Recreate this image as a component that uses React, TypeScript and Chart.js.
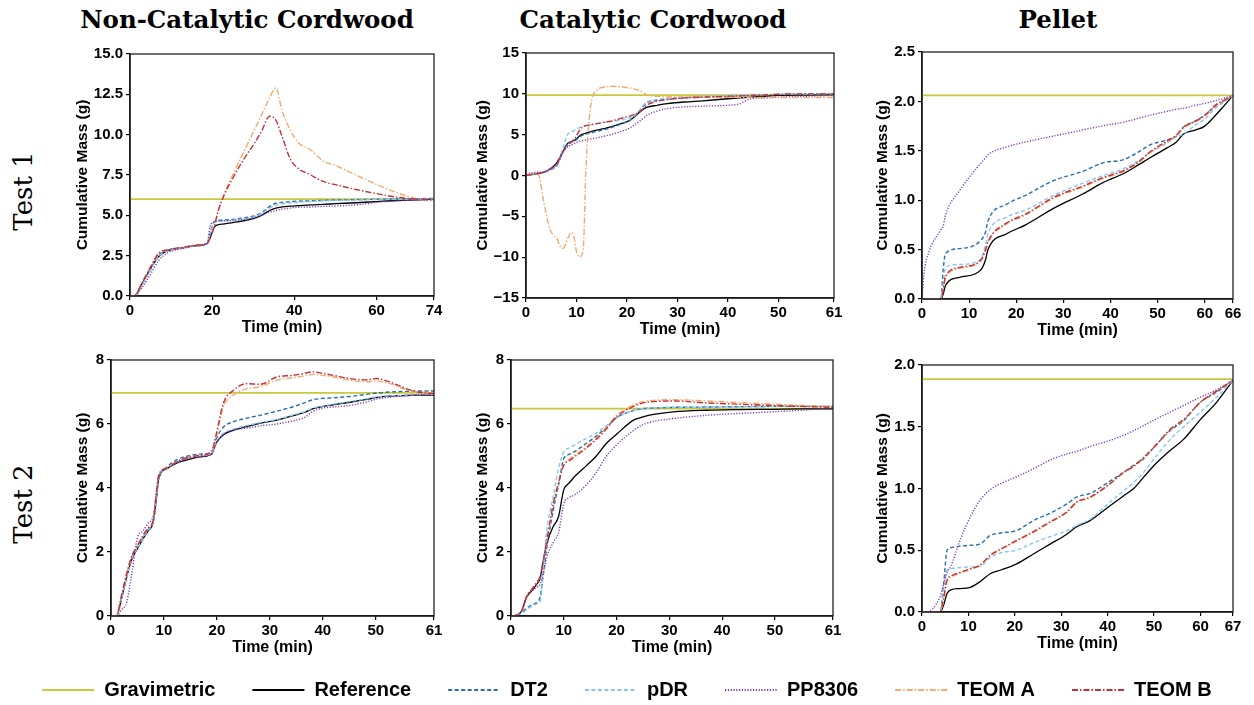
import React, { useEffect, useRef } from "react";
import { Chart, registerables } from "chart.js";

Chart.register(...registerables);

// ---------- series meta ----------
const SERIES = ["Gravimetric", "Reference", "DT2", "pDR", "PP8306", "TEOM A", "TEOM B"];
const COLORS = ["#c9c93c", "#000000", "#2a6fa8", "#86c6ee", "#7a3cc0", "#f4aa6c", "#c4303a"];
const DASHES: number[][] = [[], [], [4, 2.5], [4, 2.5], [1.2, 1.6], [6, 2, 1.5, 2], [6, 2, 1.5, 2]];
const WIDTHS = [1.8, 1.3, 1.4, 1.4, 1.4, 1.4, 1.4];

// ---------- Panel 1: Non-Catalytic Cordwood, Test 1 ----------
const p1Time = [0, 1, 3, 5, 7, 9, 11, 13, 16, 18.8, 19.5, 20.5, 21.5, 23, 25, 28, 30, 32, 34, 35.5, 37, 39, 41, 44, 47, 50, 55, 60, 65, 70, 74];
const p1Grav = 6.0;
const p1Ref = [0, 0, 0.8, 1.7, 2.45, 2.8, 2.92, 3.0, 3.12, 3.25, 3.6, 4.25, 4.42, 4.47, 4.55, 4.68, 4.8, 5.0, 5.3, 5.45, 5.52, 5.57, 5.6, 5.65, 5.68, 5.72, 5.78, 5.85, 5.92, 5.96, 6.0];
const p1DT2 = [0, 0, 0.75, 1.65, 2.5, 2.85, 2.95, 3.0, 3.12, 3.25, 3.9, 4.6, 4.68, 4.72, 4.75, 4.85, 4.95, 5.15, 5.55, 5.75, 5.8, 5.85, 5.88, 5.9, 5.93, 5.95, 5.97, 6.0, 6.02, 6.03, 6.05];
const p1PDR = [0, 0, 0.7, 1.6, 2.45, 2.8, 2.93, 3.0, 3.12, 3.25, 3.85, 4.55, 4.62, 4.66, 4.7, 4.8, 4.9, 5.1, 5.45, 5.62, 5.7, 5.78, 5.82, 5.86, 5.9, 5.92, 5.95, 5.98, 6.0, 6.0, 6.0];
const p1PP = [0, 0, 0.55, 1.35, 2.2, 2.65, 2.85, 2.95, 3.1, 3.25, 4.3, 4.6, 4.65, 4.66, 4.68, 4.75, 4.85, 5.0, 5.2, 5.3, 5.38, 5.45, 5.5, 5.52, 5.55, 5.58, 5.65, 5.8, 5.9, 5.95, 5.98];
const p1TeomA = [0, 0, 0.85, 1.8, 2.65, 2.85, 2.95, 3.02, 3.15, 3.28, 3.6, 4.3, 5.3, 6.4, 7.5, 9.1, 10.15, 11.2, 12.3, 12.9, 11.5, 10.3, 9.5, 9.05, 8.37, 8.1, 7.5, 6.92, 6.4, 6.02, 5.88];
const p1TeomB = [0, 0, 0.85, 1.8, 2.65, 2.85, 2.95, 3.02, 3.15, 3.28, 3.6, 4.3, 5.3, 6.3, 7.3, 8.6, 9.35, 10.2, 11.15, 10.9, 9.9, 8.5, 7.9, 7.5, 7.1, 6.9, 6.6, 6.35, 6.12, 6.0, 5.95];
const p1XTicks = [0, 20, 40, 60, 74];
const p1YTicks = [0, 2.5, 5, 7.5, 10, 12.5, 15];
const p1YLabels = ["0.0", "2.5", "5.0", "7.5", "10.0", "12.5", "15.0"];

// ---------- Panel 2: Catalytic Cordwood, Test 1 ----------
const p2Time = [0, 1, 2, 2.5, 3.5, 4.75, 5.4, 6.2, 6.7, 7.4, 8.2, 9, 9.5, 10, 10.7, 11.1, 11.4, 11.85, 12.7, 14, 15.4, 16.8, 18.8, 20.7, 21.4, 22.6, 23.4, 23.9, 26, 28, 31.3, 35, 40, 42.4, 44.4, 47, 50, 55, 61];
const p2Grav = 9.85;
const p2Ref = [0, 0.1, 0.2, 0.25, 0.4, 0.8, 1.1, 1.65, 2.2, 3.0, 3.9, 4.15, 4.3, 4.5, 4.9, 5.04, 5.1, 5.2, 5.35, 5.55, 5.74, 5.95, 6.35, 6.8, 7.17, 7.8, 8.19, 8.35, 8.6, 8.8, 9.0, 9.15, 9.4, 9.5, 9.6, 9.7, 9.8, 9.85, 9.9];
const p2DT2 = [0, 0.1, 0.2, 0.25, 0.4, 0.7, 0.9, 1.3, 2.0, 3.0, 3.9, 4.1, 4.2, 4.4, 4.75, 4.9, 4.95, 5.05, 5.2, 5.4, 5.6, 5.85, 6.3, 6.8, 7.2, 8.0, 8.6, 8.9, 9.2, 9.35, 9.5, 9.6, 9.7, 9.75, 9.8, 9.85, 9.9, 9.95, 10.0];
const p2PDR = [0, 0.1, 0.2, 0.25, 0.35, 0.6, 0.8, 1.2, 2.2, 3.5, 5.0, 5.3, 5.5, 5.7, 5.9, 6.0, 6.05, 6.1, 6.2, 6.35, 6.5, 6.6, 6.8, 7.1, 7.3, 8.1, 8.7, 9.0, 9.3, 9.45, 9.6, 9.7, 9.8, 9.85, 9.9, 9.92, 9.95, 9.98, 10.0];
const p2PP = [0.2, 0.3, 0.4, 0.4, 0.45, 0.7, 1.0, 1.3, 2.0, 2.9, 3.5, 3.75, 3.9, 4.05, 4.2, 4.25, 4.3, 4.35, 4.45, 4.6, 4.8, 5.0, 5.4, 5.85, 6.15, 6.7, 7.1, 7.35, 7.9, 8.2, 8.4, 8.5, 8.6, 8.8, 9.4, 9.5, 9.6, 9.7, 9.8];
const p2TeomA = [0, 0.2, 0.25, 0.1, -3.2, -6.6, -7.3, -7.8, -8.6, -8.9, -7.8, -7.0, -7.5, -9.3, -10.0, -9.6, -8.5, 0.5, 8.0, 10.43, 10.8, 10.92, 10.85, 10.7, 10.6, 10.35, 10.1, 9.82, 9.7, 9.65, 9.62, 9.6, 9.58, 9.57, 9.56, 9.55, 9.55, 9.55, 9.55];
const p2TeomB = [0, 0.1, 0.2, 0.25, 0.4, 0.8, 1.1, 1.5, 2.2, 3.0, 3.6, 4.1, 4.4, 4.9, 5.6, 5.9, 6.0, 6.1, 6.2, 6.35, 6.5, 6.65, 7.0, 7.3, 7.45, 7.8, 8.3, 8.6, 9.1, 9.3, 9.5, 9.6, 9.7, 9.75, 9.8, 9.85, 9.95, 10.0, 10.0];
const p2XTicks = [0, 10, 20, 30, 40, 50, 61];
const p2YTicks = [-15, -10, -5, 0, 5, 10, 15];
const p2YLabels = ["\u221215", "\u221210", "\u22125", "0", "5", "10", "15"];

// ---------- Panel 3: Pellet, Test 1 ----------
const p3Time = [0, 0.4, 1.5, 4, 4.5, 5, 8, 12.4, 13.5, 14, 18, 22, 28, 34, 38.5, 42.8, 46, 48.4, 52, 54, 55.5, 58, 60, 62.5, 64, 66];
const p3Grav = 2.06;
const p3Ref = [0, 0, 0, 0, 0.05, 0.14, 0.22, 0.29, 0.4, 0.5, 0.66, 0.75, 0.92, 1.06, 1.18, 1.27, 1.36, 1.43, 1.53, 1.59, 1.67, 1.71, 1.75, 1.87, 1.95, 2.06];
const p3DT2 = [0, 0, 0, 0, 0.3, 0.46, 0.51, 0.59, 0.68, 0.79, 0.96, 1.05, 1.2, 1.29, 1.38, 1.41, 1.49, 1.56, 1.61, 1.65, 1.74, 1.8, 1.86, 1.96, 2.0, 2.06];
const p3PDR = [0, 0, 0, 0, 0.15, 0.32, 0.35, 0.4, 0.55, 0.66, 0.83, 0.9, 1.05, 1.17, 1.25, 1.32, 1.4, 1.48, 1.58, 1.64, 1.67, 1.76, 1.82, 1.94, 1.99, 2.06];
const p3PP = [0, 0.25, 0.48, 0.7, 0.74, 0.85, 1.1, 1.37, 1.43, 1.46, 1.54, 1.59, 1.65, 1.71, 1.755, 1.79, 1.83, 1.86, 1.9, 1.92, 1.93, 1.96, 1.98, 2.01, 2.03, 2.06];
const p3TeomA = [0, 0, 0, 0, 0.1, 0.22, 0.31, 0.38, 0.49, 0.57, 0.76, 0.85, 1.02, 1.13, 1.22, 1.29, 1.38, 1.48, 1.59, 1.65, 1.73, 1.79, 1.85, 1.96, 2.0, 2.06];
const p3TeomB = [0, 0, 0, 0, 0.1, 0.23, 0.32, 0.39, 0.5, 0.58, 0.77, 0.86, 1.03, 1.14, 1.23, 1.3, 1.39, 1.49, 1.6, 1.66, 1.74, 1.8, 1.86, 1.97, 2.01, 2.06];
const p3XTicks = [0, 10, 20, 30, 40, 50, 60, 66];
const p3YTicks = [0, 0.5, 1, 1.5, 2, 2.5];
const p3YLabels = ["0.0", "0.5", "1.0", "1.5", "2.0", "2.5"];

// ---------- Panel 4: Non-Catalytic Cordwood, Test 2 ----------
const p4Time = [0, 1, 2, 3, 4, 5, 6, 7, 8, 8.6, 9, 10.5, 12.4, 14, 16.8, 19, 19.9, 21.2, 23.1, 25.6, 28.1, 31.3, 34.4, 36.5, 38.2, 40, 42, 45.1, 48, 50.2, 52.7, 55.8, 58, 61];
const p4Grav = 6.97;
const p4Ref = [0, 0, 0.55, 1.25, 1.8, 2.1, 2.4, 2.65, 2.95, 3.7, 4.28, 4.6, 4.78, 4.86, 4.97, 5.06, 5.42, 5.66, 5.8, 5.92, 6.02, 6.12, 6.26, 6.36, 6.48, 6.55, 6.6, 6.68, 6.76, 6.83, 6.87, 6.89, 6.9, 6.9];
const p4DT2 = [0, 0, 0.55, 1.25, 1.85, 2.15, 2.45, 2.7, 3.0, 3.8, 4.3, 4.65, 4.88, 4.98, 5.06, 5.12, 5.55, 5.9, 6.07, 6.18, 6.27, 6.4, 6.54, 6.66, 6.76, 6.8, 6.82, 6.86, 6.92, 6.97, 7.0, 7.02, 7.03, 7.03];
const p4PDR = [0, 0, 0.55, 1.25, 1.82, 2.12, 2.42, 2.68, 2.97, 3.75, 4.3, 4.62, 4.82, 4.92, 5.01, 5.08, 5.45, 5.7, 5.84, 5.95, 6.04, 6.14, 6.28, 6.38, 6.5, 6.56, 6.62, 6.7, 6.78, 6.85, 6.88, 6.9, 6.92, 6.93];
const p4PP = [0, 0, 0.2, 0.45, 1.4, 2.45, 2.65, 2.9, 3.15, 3.9, 4.35, 4.6, 4.8, 4.9, 4.98, 5.05, 5.4, 5.68, 5.81, 5.87, 5.94, 6.0, 6.1, 6.2, 6.4, 6.5, 6.53, 6.58, 6.68, 6.78, 6.84, 6.89, 6.92, 6.95];
const p4TeomA = [0, 0, 0.65, 1.35, 1.9, 2.2, 2.5, 2.75, 3.0, 3.9, 4.4, 4.62, 4.82, 4.93, 5.02, 5.12, 5.6, 6.53, 6.9, 7.1, 7.16, 7.37, 7.45, 7.5, 7.55, 7.52, 7.47, 7.37, 7.32, 7.34, 7.26, 7.07, 7.0, 6.98];
const p4TeomB = [0, 0, 0.65, 1.35, 1.9, 2.2, 2.5, 2.75, 3.0, 3.9, 4.4, 4.62, 4.82, 4.93, 5.02, 5.15, 5.7, 6.64, 7.05, 7.26, 7.24, 7.47, 7.52, 7.58, 7.63, 7.58, 7.52, 7.42, 7.38, 7.42, 7.31, 7.1, 7.0, 6.95];
const p4XTicks = [0, 10, 20, 30, 40, 50, 61];
const p4YTicks = [0, 2, 4, 6, 8];
const p4YLabels = ["0", "2", "4", "6", "8"];

// ---------- Panel 5: Catalytic Cordwood, Test 2 ----------
const p5Time = [0, 1, 2, 3, 4, 4.9, 5.5, 6.2, 6.8, 8, 9, 10, 11, 12, 14.3, 16, 18.1, 20, 23.2, 25, 27, 30.7, 37, 43, 49.6, 55, 61];
const p5Grav = 6.48;
const p5Ref = [0, 0.03, 0.15, 0.6, 0.8, 1.0, 1.17, 1.8, 2.27, 2.8, 3.1, 3.95, 4.15, 4.35, 4.7, 4.97, 5.4, 5.68, 6.12, 6.22, 6.3, 6.38, 6.43, 6.45, 6.46, 6.47, 6.47];
const p5DT2 = [0, 0.02, 0.1, 0.25, 0.35, 0.42, 0.6, 1.4, 2.16, 3.3, 4.1, 4.92, 5.05, 5.13, 5.4, 5.6, 5.9, 6.2, 6.42, 6.48, 6.5, 6.52, 6.53, 6.54, 6.55, 6.55, 6.55];
const p5PDR = [0, 0.02, 0.08, 0.2, 0.3, 0.38, 0.45, 1.65, 2.7, 3.73, 4.6, 5.13, 5.25, 5.34, 5.55, 5.7, 5.95, 6.2, 6.42, 6.48, 6.5, 6.52, 6.53, 6.54, 6.55, 6.55, 6.55];
const p5PP = [0, 0.03, 0.15, 0.65, 0.8, 0.9, 1.0, 1.4, 1.85, 2.3, 2.6, 3.5, 3.7, 3.78, 4.1, 4.45, 5.0, 5.35, 5.8, 5.98, 6.08, 6.17, 6.27, 6.33, 6.38, 6.43, 6.5];
const p5TeomA = [0, 0.03, 0.15, 0.62, 0.85, 1.05, 1.23, 1.8, 2.37, 3.5, 4.15, 4.75, 4.9, 5.02, 5.3, 5.53, 5.9, 6.27, 6.6, 6.7, 6.74, 6.76, 6.72, 6.67, 6.62, 6.58, 6.55];
const p5TeomB = [0, 0.03, 0.15, 0.62, 0.85, 1.05, 1.23, 1.8, 2.37, 3.5, 4.15, 4.71, 4.85, 4.97, 5.25, 5.49, 5.85, 6.22, 6.55, 6.66, 6.7, 6.72, 6.66, 6.62, 6.58, 6.55, 6.52];
const p5XTicks = [0, 10, 20, 30, 40, 50, 61];
const p5YTicks = [0, 2, 4, 6, 8];
const p5YLabels = ["0", "2", "4", "6", "8"];

// ---------- Panel 6: Pellet, Test 2 ----------
const p6Time = [0, 0.8, 3.9, 4.6, 5.4, 6.2, 8.2, 10.4, 12.5, 14.7, 17, 20.4, 24, 27.6, 31.2, 33.3, 36.2, 40.5, 43.4, 45.6, 47.7, 50.6, 53.5, 56.4, 60, 63.5, 67];
const p6Grav = 1.885;
const p6Ref = [0, 0, 0, 0.05, 0.15, 0.18, 0.19, 0.2, 0.245, 0.31, 0.34, 0.39, 0.47, 0.55, 0.63, 0.69, 0.74, 0.86, 0.94, 1.0, 1.09, 1.21, 1.31, 1.4, 1.56, 1.7, 1.876];
const p6DT2 = [0, 0, 0, 0.2, 0.5, 0.52, 0.533, 0.54, 0.55, 0.62, 0.64, 0.66, 0.74, 0.8, 0.875, 0.93, 0.96, 1.06, 1.13, 1.19, 1.24, 1.36, 1.47, 1.55, 1.7, 1.78, 1.876];
const p6PDR = [0, 0, 0, 0.15, 0.34, 0.35, 0.36, 0.365, 0.37, 0.44, 0.48, 0.5, 0.56, 0.61, 0.66, 0.7, 0.75, 0.89, 0.98, 1.05, 1.13, 1.27, 1.4, 1.5, 1.62, 1.74, 1.876];
const p6PP = [0, 0, 0.125, 0.22, 0.32, 0.37, 0.58, 0.77, 0.905, 0.99, 1.04, 1.095, 1.16, 1.23, 1.28, 1.3, 1.34, 1.39, 1.43, 1.47, 1.51, 1.566, 1.62, 1.673, 1.74, 1.8, 1.876];
const p6TeomA = [0, 0, 0, 0.08, 0.25, 0.28, 0.315, 0.345, 0.375, 0.455, 0.505, 0.575, 0.645, 0.725, 0.805, 0.885, 0.925, 1.035, 1.125, 1.175, 1.245, 1.355, 1.475, 1.555, 1.695, 1.785, 1.876];
const p6TeomB = [0, 0, 0, 0.1, 0.26, 0.29, 0.32, 0.35, 0.38, 0.46, 0.51, 0.58, 0.65, 0.73, 0.81, 0.89, 0.93, 1.04, 1.13, 1.18, 1.25, 1.36, 1.48, 1.56, 1.7, 1.79, 1.876];
const p6XTicks = [0, 10, 20, 30, 40, 50, 60, 67];
const p6YTicks = [0, 0.5, 1, 1.5, 2];
const p6YLabels = ["0.0", "0.5", "1.0", "1.5", "2.0"];

const COLUMN_TITLES = ["Non-Catalytic Cordwood", "Catalytic Cordwood", "Pellet"];
const ROW_TITLES = ["Test 1", "Test 2"];
const X_TITLE = "Time (min)";
const Y_TITLE = "Cumulative Mass (g)";

type PanelData = {
  time: number[];
  grav: number;
  series: number[][];
  xTicks: number[];
  yTicks: number[];
  yLabels: string[];
};

const PANELS: PanelData[] = [
  { time: p1Time, grav: p1Grav, series: [p1Ref, p1DT2, p1PDR, p1PP, p1TeomA, p1TeomB], xTicks: p1XTicks, yTicks: p1YTicks, yLabels: p1YLabels },
  { time: p2Time, grav: p2Grav, series: [p2Ref, p2DT2, p2PDR, p2PP, p2TeomA, p2TeomB], xTicks: p2XTicks, yTicks: p2YTicks, yLabels: p2YLabels },
  { time: p3Time, grav: p3Grav, series: [p3Ref, p3DT2, p3PDR, p3PP, p3TeomA, p3TeomB], xTicks: p3XTicks, yTicks: p3YTicks, yLabels: p3YLabels },
  { time: p4Time, grav: p4Grav, series: [p4Ref, p4DT2, p4PDR, p4PP, p4TeomA, p4TeomB], xTicks: p4XTicks, yTicks: p4YTicks, yLabels: p4YLabels },
  { time: p5Time, grav: p5Grav, series: [p5Ref, p5DT2, p5PDR, p5PP, p5TeomA, p5TeomB], xTicks: p5XTicks, yTicks: p5YTicks, yLabels: p5YLabels },
  { time: p6Time, grav: p6Grav, series: [p6Ref, p6DT2, p6PDR, p6PP, p6TeomA, p6TeomB], xTicks: p6XTicks, yTicks: p6YTicks, yLabels: p6YLabels },
];

// ---------- layout (plot-area boxes in page pixels) ----------
type Box = { l: number; t: number; r: number; b: number; yTitleOff: number };
const BOXES: Box[] = [
  { l: 130, t: 54, r: 434, b: 296, yTitleOff: 47 },
  { l: 526, t: 53, r: 834, b: 298, yTitleOff: 43 },
  { l: 922, t: 52, r: 1233, b: 299, yTitleOff: 39 },
  { l: 111, t: 360, r: 434, b: 616, yTitleOff: 28 },
  { l: 511, t: 360, r: 833, b: 616, yTitleOff: 28 },
  { l: 922, t: 365, r: 1233, b: 612, yTitleOff: 39 },
];

const SANS = "'Liberation Sans', Arial, Helvetica, sans-serif";
const SERIF = "'DejaVu Serif', serif";

const framePlugin = {
  id: "frame",
  afterDraw(chart: any) {
    const { ctx, chartArea: a } = chart;
    ctx.save();
    ctx.strokeStyle = "#222";
    ctx.lineWidth = 1.3;
    ctx.strokeRect(a.left, a.top, a.right - a.left, a.bottom - a.top);
    ctx.restore();
  },
};

function Panel({ data, box }: { data: PanelData; box: Box }) {
  const ref = useRef<HTMLCanvasElement | null>(null);
  const AW = box.yTitleOff + 10;
  const PT = 12;
  const PR = 14;
  const AH = 41;
  const w = AW + (box.r - box.l) + PR;
  const h = PT + (box.b - box.t) + AH;

  useEffect(() => {
    if (!ref.current) return;
    const xMax = data.xTicks[data.xTicks.length - 1];
    const yMin = data.yTicks[0];
    const yMax = data.yTicks[data.yTicks.length - 1];
    const datasets = SERIES.map((name, i) => {
      const pts =
        i === 0
          ? [
              { x: 0, y: data.grav },
              { x: xMax, y: data.grav },
            ]
          : data.time.map((x, j) => ({ x, y: data.series[i - 1][j] }));
      return {
        label: name,
        data: pts,
        borderColor: COLORS[i],
        backgroundColor: COLORS[i],
        borderWidth: WIDTHS[i],
        borderDash: DASHES[i],
        pointRadius: 0,
        fill: false,
        cubicInterpolationMode: "monotone" as const,
        order: SERIES.length - 1 - i,
      };
    });
    const tickFont = { family: SANS, size: 15, weight: "bold" as const };
    const gridOpts = { display: true, drawOnChartArea: false, drawTicks: true, tickLength: 4, color: "#000", lineWidth: 1.2 };
    const borderOpts = { display: true, color: "#000", width: 1.5 };
    const chart = new Chart(ref.current, {
      type: "line",
      data: { datasets },
      options: {
        animation: false,
        responsive: false,
        maintainAspectRatio: false,
        events: [],
        layout: { padding: { left: 0, top: PT, right: PR, bottom: 0 } },
        plugins: { legend: { display: false }, tooltip: { enabled: false } },
        scales: {
          x: {
            type: "linear",
            min: 0,
            max: xMax,
            afterBuildTicks: (s: any) => {
              s.ticks = data.xTicks.map((v) => ({ value: v }));
            },
            afterFit: (s: any) => {
              s.height = AH;
            },
            ticks: {
              autoSkip: false,
              maxRotation: 0,
              minRotation: 0,
              padding: 2,
              color: "#000",
              font: tickFont,
              callback: (v: any) => String(v),
            },
            grid: gridOpts,
            border: borderOpts,
            title: {
              display: true,
              text: X_TITLE,
              color: "#000",
              font: { family: SANS, size: 16, weight: "bold" },
              padding: { top: 0, bottom: 0 },
            },
          },
          y: {
            type: "linear",
            min: yMin,
            max: yMax,
            afterBuildTicks: (s: any) => {
              s.ticks = data.yTicks.map((v) => ({ value: v }));
            },
            afterFit: (s: any) => {
              s.width = AW;
            },
            ticks: {
              autoSkip: false,
              padding: 3,
              color: "#000",
              font: tickFont,
              callback: (v: any) => {
                const k = data.yTicks.findIndex((t) => Math.abs(t - Number(v)) < 1e-9);
                return k >= 0 ? data.yLabels[k] : "";
              },
            },
            grid: gridOpts,
            border: borderOpts,
            title: {
              display: true,
              text: Y_TITLE,
              color: "#000",
              font: { family: SANS, size: 15.5, weight: "bold" },
              padding: { top: 0.7, bottom: 0 },
            },
          },
        },
      } as any,
      plugins: [framePlugin],
    });
    return () => chart.destroy();
  }, []);

  return (
    <canvas
      ref={ref}
      width={w}
      height={h}
      style={{ position: "absolute", left: box.l - AW, top: box.t - PT, width: w, height: h }}
    />
  );
}

function LegendBar() {
  const ref = useRef<HTMLCanvasElement | null>(null);
  const W = 1250;
  const H = 150;
  useEffect(() => {
    if (!ref.current) return;
    const chart = new Chart(ref.current, {
      type: "line",
      data: {
        datasets: SERIES.map((s, i) => ({
          label: s,
          data: [],
          borderColor: COLORS[i],
          borderDash: DASHES[i],
          borderWidth: 1.8,
        })),
      },
      options: {
        animation: false,
        responsive: false,
        maintainAspectRatio: false,
        events: [],
        layout: { padding: 0 },
        scales: { x: { display: false }, y: { display: false } },
        plugins: {
          tooltip: { enabled: false },
          legend: {
            display: true,
            position: "top",
            align: "center",
            labels: {
              usePointStyle: true,
              pointStyle: "line",
              pointStyleWidth: 52,
              padding: 37,
              color: "#000",
              font: { family: SANS, size: 20, weight: "bold" },
              generateLabels: () =>
                SERIES.map((s, i) => ({
                  text: s,
                  fillStyle: COLORS[i],
                  strokeStyle: COLORS[i],
                  lineWidth: 1.8,
                  lineDash: DASHES[i],
                  pointStyle: "line",
                  hidden: false,
                  datasetIndex: i,
                  fontColor: "#000",
                })),
            },
          },
        },
      } as any,
    });
    return () => chart.destroy();
  }, []);
  return (
    <canvas ref={ref} width={W} height={H} style={{ position: "absolute", left: 2, top: 643, width: W, height: H }} />
  );
}

export default function App() {
  const colCenters = [247, 653, 1058];
  const rowCenters = [191, 504];
  return (
    <div
      style={{
        position: "absolute",
        left: 0,
        top: 0,
        width: 1254,
        height: 705,
        overflow: "hidden",
        background: "#fff",
      }}
    >
      {COLUMN_TITLES.map((t, i) => (
        <div
          key={t}
          style={{
            position: "absolute",
            left: colCenters[i],
            top: 8,
            transform: "translateX(-50%)",
            whiteSpace: "nowrap",
            fontFamily: SERIF,
            fontWeight: "bold",
            fontSize: 24.5,
            lineHeight: "24.5px",
            color: "#000",
          }}
        >
          {t}
        </div>
      ))}
      {ROW_TITLES.map((t, i) => (
        <div
          key={t}
          style={{
            position: "absolute",
            left: 23,
            top: rowCenters[i],
            transform: "translate(-50%, -50%) rotate(-90deg)",
            whiteSpace: "nowrap",
            fontFamily: SERIF,
            fontSize: 26,
            lineHeight: "26px",
            color: "#000",
          }}
        >
          {t}
        </div>
      ))}
      {PANELS.map((p, i) => (
        <Panel key={i} data={p} box={BOXES[i]} />
      ))}
      <LegendBar />
    </div>
  );
}
